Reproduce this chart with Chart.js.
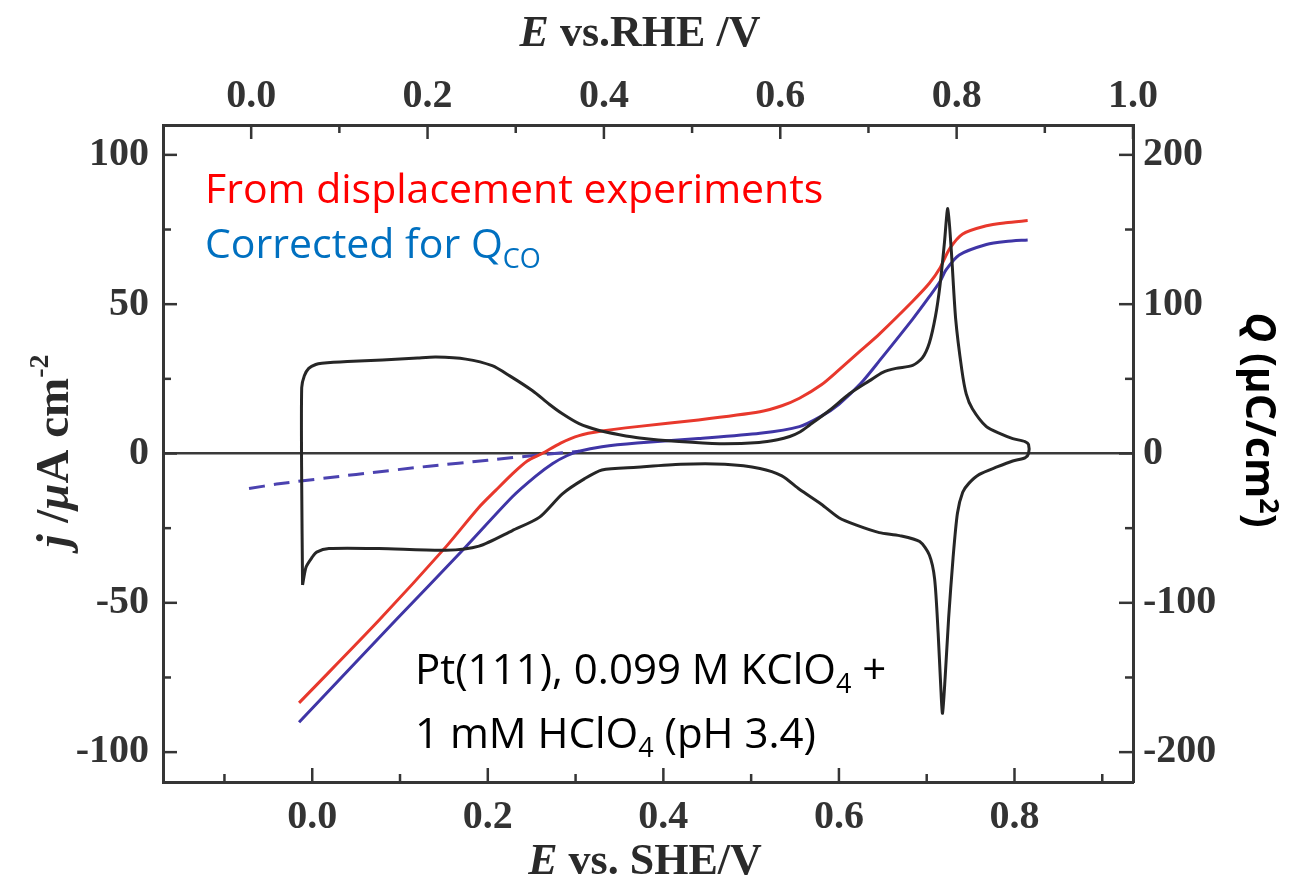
<!DOCTYPE html>
<html>
<head>
<meta charset="utf-8">
<script src="https://cdn.jsdelivr.net/npm/chart.js@4.4.1/dist/chart.umd.min.js"></script>
<style>
html, body { margin: 0; padding: 0; background: #fff; }
canvas { display: block; }
</style>
</head>
<body>
<canvas id="cv-chart" width="1294" height="882"></canvas>
<script>
// black CV: potential vs SHE (V) and current density (uA/cm2), one closed loop
const cvE = [-0.011, -0.012, -0.012, -0.009, -0.004, 0.004, 0.011, 0.04, 0.08, 0.12, 0.141, 0.175, 0.205, 0.225, 0.251, 0.27, 0.285, 0.304, 0.327, 0.35, 0.373, 0.418, 0.464, 0.509, 0.53, 0.544, 0.556, 0.566, 0.589, 0.612, 0.635, 0.65, 0.665, 0.684, 0.695, 0.703, 0.71, 0.715, 0.72, 0.724, 0.728, 0.733, 0.74, 0.745, 0.752, 0.768, 0.785, 0.798, 0.812, 0.816, 0.816,
  0.812, 0.798, 0.78, 0.76, 0.748, 0.741, 0.735, 0.73, 0.725, 0.721, 0.718, 0.716, 0.713, 0.709, 0.703, 0.692, 0.669, 0.646, 0.62, 0.6, 0.58, 0.555, 0.535, 0.51, 0.47, 0.42, 0.37, 0.33, 0.31, 0.285, 0.259, 0.228, 0.19, 0.152, 0.076, 0.019, 0.005, 0.0, -0.007, -0.011];
const cvJ = [-44, -10, 22, 26, 28.5, 29.8, 30.2, 30.8, 31.3, 32, 32.3, 31.6, 29.4, 26, 21, 16.5, 13.3, 10, 7.7, 6.3, 5.2, 4, 3.3, 3.7, 4.6, 5.7, 7.3, 9.4, 14.4, 20, 24.4, 27.2, 28.5, 29.5, 32, 37, 46, 56, 70, 82, 68, 45, 28, 20, 15, 9, 6.5, 5, 4, 3, 0,
  -1.5, -2.5, -4.5, -7, -10, -13, -20, -35, -55, -75, -87, -78, -60, -42, -34, -29.5, -27.5, -26.5, -24, -21.5, -17, -12, -7.5, -5, -3.6, -3.6, -4.6, -5.5, -8.5, -13.5, -21.3, -25.8, -31, -32.4, -31.8, -31.8, -33, -34.7, -38, -44];

// charge from displacement experiments (uC/cm2)
const redE = [-0.015, 0.0, 0.076, 0.152, 0.19, 0.209, 0.228, 0.245, 0.262, 0.283, 0.304, 0.33, 0.37, 0.44, 0.51, 0.535, 0.555, 0.58, 0.6, 0.625, 0.646, 0.684, 0.703, 0.715, 0.726, 0.741, 0.768, 0.79, 0.815];
const redQ = [-167, -158, -111.7, -62.7, -36, -24.7, -13.6, -5, 0, 7, 12, 15, 18, 22.5, 28, 32, 37, 46, 56, 69, 80, 102, 114, 124, 137, 147, 152.5, 154.5, 156];

// charge corrected for Q_CO
const blueE = [-0.015, 0.095, 0.171, 0.228, 0.255, 0.274, 0.29, 0.304, 0.33, 0.37, 0.44, 0.51, 0.555, 0.58, 0.6, 0.625, 0.646, 0.684, 0.703, 0.715, 0.722, 0.737, 0.768, 0.79, 0.815];
const blueQ = [-180, -111.7, -65, -29, -15, -6.7, -1.5, 1.5, 4.5, 7, 10, 13.5, 18, 25, 33, 47, 62, 90, 105, 115, 123, 133, 140, 142, 143];

// dashed extrapolation of the corrected charge
const dashE = [-0.072, -0.038, 0.05, 0.133, 0.2, 0.266, 0.304];
const dashQ = [-23.5, -20.3, -14, -8.5, -4.5, -0.5, 1.5];

// axis ticks (minor ones get no label)
const sheTicks = [-0.1, 0.0, 0.1, 0.2, 0.3, 0.4, 0.5, 0.6, 0.7, 0.8, 0.9];
const rheTicks = [0.0, 0.1, 0.2, 0.3, 0.4, 0.5, 0.6, 0.7, 0.8, 0.9, 1.0];
const jTicks = [-100, -75, -50, -25, 0, 25, 50, 75, 100];
const qTicks = [-200, -150, -100, -50, 0, 50, 100, 150, 200];

const axisColor = '#353535';
const tickFont = { family: 'Liberation Serif', size: 40, weight: 'bold' };

const toPoints = (xs, ys) => xs.map((x, i) => ({ x, y: ys[i] }));
const setTicks = (vals) => (s) => { s.ticks = vals.map(v => ({ value: v })); };
const isMultiple = (v, step) => Math.abs(Math.round(v / step) * step - v) < 1e-6;

function drawRuns(ctx, runs, x, y, align) {
    let w = 0;
    runs.forEach(r => { ctx.font = r.font; w += ctx.measureText(r.text).width; });
    let cx = align === 'center' ? x - w / 2 : x;
    runs.forEach(r => {
        ctx.font = r.font;
        ctx.fillStyle = r.color;
        ctx.fillText(r.text, cx, y + (r.dy || 0));
        cx += ctx.measureText(r.text).width;
    });
}

const inwardTicks = {
    id: 'inwardTicks',
    afterDatasetsDraw(chart) {
        const ctx = chart.ctx;
        const a = chart.chartArea;
        ctx.save();
        ctx.strokeStyle = axisColor;
        ctx.lineWidth = 2.5;
        ['xb', 'xt', 'yl', 'yr'].forEach(id => {
            const s = chart.scales[id];
            s.ticks.forEach(t => {
                const len = t.label ? 14 : 8;
                const p = s.getPixelForValue(t.value);
                ctx.beginPath();
                if (id === 'xb') { ctx.moveTo(p, a.bottom); ctx.lineTo(p, a.bottom - len); }
                if (id === 'xt') { ctx.moveTo(p, a.top); ctx.lineTo(p, a.top + len); }
                if (id === 'yl') { ctx.moveTo(a.left, p); ctx.lineTo(a.left + len, p); }
                if (id === 'yr') { ctx.moveTo(a.right, p); ctx.lineTo(a.right - len, p); }
                ctx.stroke();
            });
        });
        ctx.restore();
    }
};

const texts = {
    id: 'texts',
    afterDraw(chart) {
        const ctx = chart.ctx;
        const serif = 'Liberation Serif';
        const dark = '#2a2a2a';
        ctx.save();
        ctx.textBaseline = 'alphabetic';

        // top and bottom axis titles
        drawRuns(ctx, [
            { text: 'E', font: `italic bold 44px "${serif}"`, color: dark },
            { text: ' vs.RHE /V', font: `bold 44px "${serif}"`, color: dark }
        ], 640, 46, 'center');
        drawRuns(ctx, [
            { text: 'E', font: `italic bold 44px "${serif}"`, color: dark },
            { text: ' vs. SHE/V', font: `bold 44px "${serif}"`, color: dark }
        ], 645, 874, 'center');

        // left title
        ctx.save();
        ctx.translate(68, 451);
        ctx.rotate(-Math.PI / 2);
        drawRuns(ctx, [
            { text: 'j', font: `italic bold 47px "${serif}"`, color: dark },
            { text: ' /', font: `bold 47px "${serif}"`, color: dark },
            { text: 'μ', font: `italic bold 47px "${serif}"`, color: dark },
            { text: 'A cm', font: `bold 47px "${serif}"`, color: dark },
            { text: '-2', font: `bold 28px "${serif}"`, color: dark, dy: -20 }
        ], 0, 0, 'center');
        ctx.restore();

        // right title
        ctx.save();
        ctx.translate(1246, 420);
        ctx.rotate(Math.PI / 2);
        drawRuns(ctx, [
            { text: 'Q', font: 'italic bold 41px "Open Sans"', color: '#000' },
            { text: ' (μC/cm', font: 'bold 41px "Open Sans"', color: '#000' },
            { text: '2', font: 'bold 27px "Open Sans"', color: '#000', dy: -14 },
            { text: ')', font: 'bold 41px "Open Sans"', color: '#000' }
        ], 0, 0, 'center');
        ctx.restore();

        // legend-like labels
        ctx.font = '41px "Open Sans"';
        ctx.fillStyle = '#ff0000';
        ctx.fillText('From displacement experiments', 205, 203, 621);
        drawRuns(ctx, [
            { text: 'Corrected for Q', font: '41px "Open Sans"', color: '#0070c0' },
            { text: 'CO', font: '27px "Open Sans"', color: '#0070c0', dy: 10 }
        ], 205, 258, 'left');

        // conditions
        drawRuns(ctx, [
            { text: 'Pt(111), 0.099 M KClO', font: '42px "Open Sans"', color: '#000' },
            { text: '4', font: '27px "Open Sans"', color: '#000', dy: 9 },
            { text: ' +', font: '42px "Open Sans"', color: '#000' }
        ], 415, 684, 'left');
        drawRuns(ctx, [
            { text: '1 mM HClO', font: '42px "Open Sans"', color: '#000' },
            { text: '4', font: '27px "Open Sans"', color: '#000', dy: 9 },
            { text: ' (pH 3.4)', font: '42px "Open Sans"', color: '#000' }
        ], 415, 748, 'left');
        ctx.restore();
    }
};

const lineStyle = { showLine: true, pointRadius: 0, fill: false, tension: 0.25 };

new Chart(document.getElementById('cv-chart'), {
    type: 'scatter',
    data: {
        datasets: [
            { label: 'CV', data: toPoints(cvE, cvJ), borderColor: '#262626', borderWidth: 3, xAxisID: 'xb', yAxisID: 'yl', ...lineStyle },
            { label: 'From displacement experiments', data: toPoints(redE, redQ), borderColor: '#e8382c', borderWidth: 3, xAxisID: 'xb', yAxisID: 'yr', ...lineStyle },
            { label: 'Corrected for Q_CO', data: toPoints(blueE, blueQ), borderColor: '#3f35a6', borderWidth: 3, xAxisID: 'xb', yAxisID: 'yr', ...lineStyle },
            { label: 'extrapolated', data: toPoints(dashE, dashQ), borderColor: '#4b42b0', borderWidth: 3, borderDash: [16, 9], xAxisID: 'xb', yAxisID: 'yr', ...lineStyle }
        ]
    },
    options: {
        responsive: false,
        animation: false,
        layout: { padding: 0 },
        plugins: { legend: { display: false }, tooltip: { enabled: false } },
        scales: {
            xb: {
                type: 'linear', position: 'bottom', min: -0.17, max: 0.935,
                afterBuildTicks: setTicks(sheTicks),
                afterFit: (s) => { s.height = 100; },
                grid: { display: false, drawTicks: false },
                border: { display: true, color: axisColor, width: 3 },
                ticks: {
                    autoSkip: false, maxRotation: 0, padding: 12, color: '#333', font: tickFont,
                    callback: (v) => isMultiple(v, 0.2) ? v.toFixed(1) : ''
                }
            },
            xt: {
                type: 'linear', position: 'top', min: -0.1, max: 1.0,
                afterBuildTicks: setTicks(rheTicks),
                afterFit: (s) => { s.height = 125; },
                grid: { display: false, drawTicks: false },
                border: { display: true, color: axisColor, width: 3 },
                ticks: {
                    autoSkip: false, maxRotation: 0, padding: 4, color: '#333', font: tickFont,
                    callback: (v) => isMultiple(v, 0.2) ? v.toFixed(1) : ''
                }
            },
            yl: {
                type: 'linear', position: 'left', min: -110, max: 110,
                afterBuildTicks: setTicks(jTicks),
                afterFit: (s) => { s.width = 163; },
                grid: {
                    drawOnChartArea: true, drawTicks: false, lineWidth: 2.5,
                    color: (c) => (c.tick && c.tick.value === 0) ? '#3a3a3a' : 'rgba(0,0,0,0)'
                },
                border: { display: true, color: axisColor, width: 3 },
                ticks: {
                    autoSkip: false, padding: 14, color: '#333', font: tickFont,
                    callback: (v) => isMultiple(v, 50) ? String(v) : ''
                }
            },
            yr: {
                type: 'linear', position: 'right', min: -220, max: 220,
                afterBuildTicks: setTicks(qTicks),
                afterFit: (s) => { s.width = 161; },
                grid: { display: false, drawTicks: false },
                border: { display: true, color: axisColor, width: 3 },
                ticks: {
                    autoSkip: false, padding: 10, color: '#333', font: tickFont,
                    callback: (v) => isMultiple(v, 100) ? String(v) : ''
                }
            }
        }
    },
    plugins: [inwardTicks, texts]
});
</script>
</body>
</html>
